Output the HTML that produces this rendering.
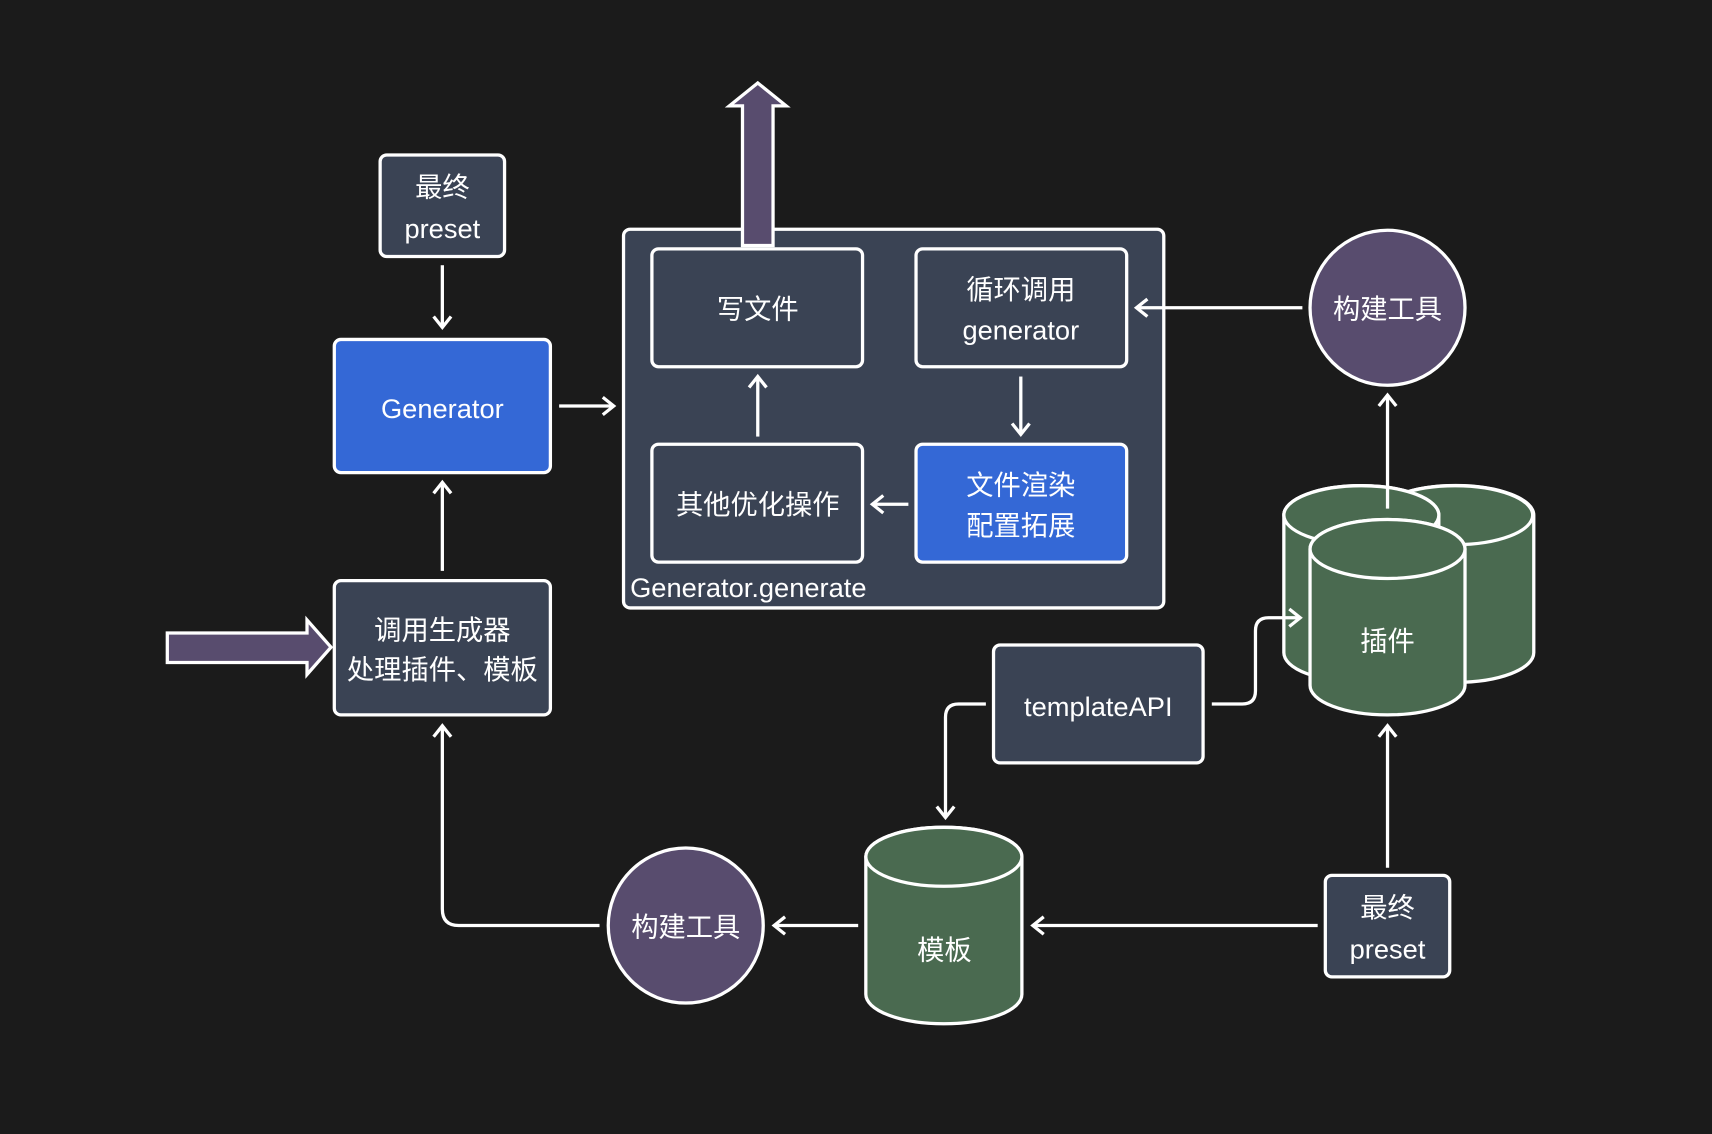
<!DOCTYPE html>
<html><head><meta charset="utf-8"><style>
html,body{margin:0;padding:0;background:#1b1b1b;}
svg{display:block;}
text{font-family:"Liberation Sans","Noto Sans CJK SC",sans-serif;fill:#fff;font-size:25px;}
</style></head><body>
<svg width="1712" height="1134" viewBox="0 0 1568 1039" xmlns="http://www.w3.org/2000/svg">
<defs>
<marker id="a" viewBox="0 0 20 20" refX="14" refY="10" markerWidth="20" markerHeight="20" markerUnits="userSpaceOnUse" orient="auto">
<path d="M4 2 L14 10 L4 18" fill="none" stroke="#fff" stroke-width="3"/>
</marker>
</defs>
<rect width="1568" height="1039" fill="#1b1b1b"/>
<g stroke="#fff" stroke-width="3">
<!-- container -->
<rect x="571" y="210" width="495" height="347" rx="6" fill="#3a4354"/>
<rect x="348" y="142" width="114" height="93" rx="6" fill="#3a4354"/>
<rect x="306" y="311" width="198" height="122" rx="6" fill="#3468d6"/>
<rect x="306" y="532" width="198" height="123" rx="6" fill="#3a4354"/>
<rect x="597" y="228" width="193" height="108" rx="6" fill="#3a4354"/>
<rect x="839" y="228" width="193" height="108" rx="6" fill="#3a4354"/>
<rect x="597" y="407" width="193" height="108" rx="6" fill="#3a4354"/>
<rect x="839" y="407" width="193" height="108" rx="6" fill="#3468d6"/>
<rect x="910" y="591" width="192" height="108" rx="6" fill="#3a4354"/>
<rect x="1214" y="802" width="114" height="93" rx="6" fill="#3a4354"/>
<circle cx="1271" cy="282" r="71" fill="#584c6e"/>
<circle cx="628" cy="848" r="71" fill="#584c6e"/>
<!-- big arrows -->
<path d="M153 580 H281 V568 L303 593 L281 618 V607 H153 Z" fill="#584c6e"/>
<path d="M680 225 V97 H668 L694 76 L720 97 H708 V225 Z" fill="#584c6e"/>
<!-- cylinders -->
<g fill="#4a6a50">
<path d="M1262 472 A71 27 0 0 1 1405 472 V598 A71 27 0 0 1 1262 598 Z"/>
<ellipse cx="1333" cy="472" rx="71" ry="27"/>
<path d="M1176 472 A71 27 0 0 1 1318 472 V598 A71 27 0 0 1 1176 598 Z"/>
<ellipse cx="1247" cy="472" rx="71" ry="27"/>
<path d="M1200 503 A71 27 0 0 1 1342 503 V628 A71 27 0 0 1 1200 628 Z"/>
<ellipse cx="1271" cy="503" rx="71" ry="27"/>
<path d="M793 785 A71.5 27 0 0 1 936 785 V911 A71.5 27 0 0 1 793 911 Z"/>
<ellipse cx="864.5" cy="785" rx="71.5" ry="27"/>
</g>
<!-- connectors -->
<g fill="none" marker-end="url(#a)">
<path d="M405 243 V300"/>
<path d="M405 523 V442"/>
<path d="M512 372 H562"/>
<path d="M694 400 V345"/>
<path d="M935 345 V398"/>
<path d="M832 462 H799"/>
<path d="M1193 282 H1041"/>
<path d="M1271 466 V362"/>
<path d="M1110 645 H1138 Q1150 645 1150 633 V578 Q1150 566 1162 566 H1191"/>
<path d="M903 645 H878 Q866 645 866 657 V749"/>
<path d="M1207 848 H946"/>
<path d="M1271 795 V665"/>
<path d="M786 848 H709"/>
<path d="M549 848 H420 Q405 848 405 833 V665"/>
</g>
</g>
<g text-anchor="middle">
<text x="405" y="180">最终</text>
<text x="405" y="218">preset</text>
<text x="405" y="383">Generator</text>
<text x="405" y="586">调用生成器</text>
<text x="405" y="622">处理插件、模板</text>
<text x="694" y="292">写文件</text>
<text x="935" y="274">循环调用</text>
<text x="935" y="311">generator</text>
<text x="694" y="471">其他优化操作</text>
<text x="935" y="453">文件渲染</text>
<text x="935" y="490">配置拓展</text>
<text x="1271" y="292">构建工具</text>
<text x="628" y="858">构建工具</text>
<text x="1271" y="596">插件</text>
<text x="1006" y="656">templateAPI</text>
<text x="865" y="879">模板</text>
<text x="1271" y="840">最终</text>
<text x="1271" y="878">preset</text>
</g>
<text x="577" y="547">Generator.generate</text>
</svg>
</body></html>
